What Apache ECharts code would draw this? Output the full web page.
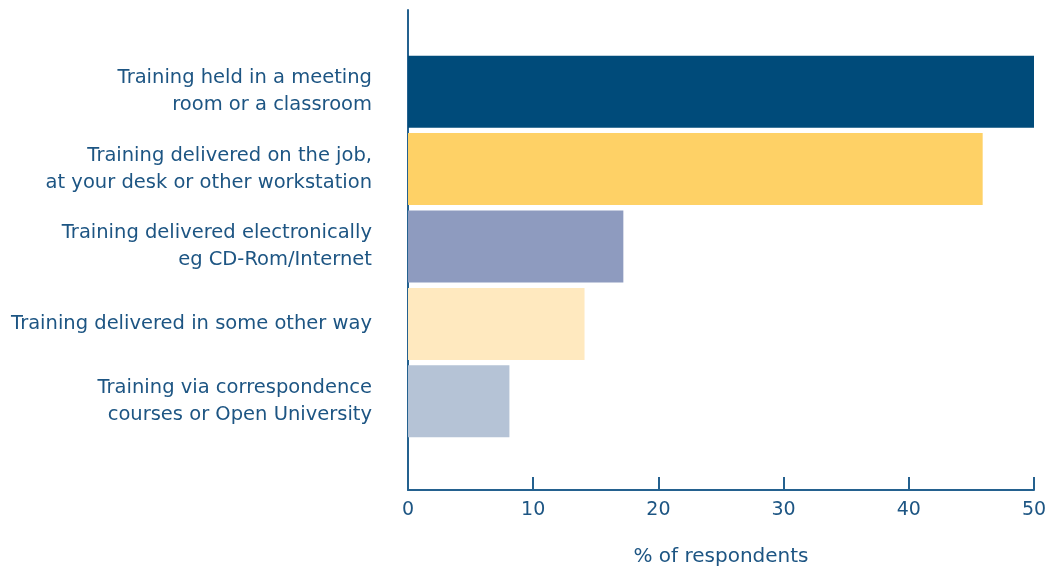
<!DOCTYPE html>
<html>
<head>
<meta charset="utf-8">
<script src="https://cdn.jsdelivr.net/npm/echarts@6/dist/echarts.min.js"></script>
<style>
  html, body { margin: 0; padding: 0; background: #fff; }
  #chart { width: 1055px; height: 574px; }
</style>
</head>
<body>
<div id="chart"></div>
<script>
const categories = [
  'Training held in a meeting\nroom or a classroom',
  'Training delivered on the job,\nat your desk or other workstation',
  'Training delivered electronically\neg CD-Rom/Internet',
  'Training delivered in some other way',
  'Training via correspondence\ncourses or Open University'
]
const values = [50, 45.9, 17.2, 14.1, 8.1]
const barColors = ['#004b7a', '#fed166', '#8e9bbf', '#ffe9bf', '#b5c3d6']
const xTicks = [0, 10, 20, 30, 40, 50]

const axisColor = '#24618f'
const textColor = '#1d5583'
const fontFamily = '"DejaVu Sans", sans-serif'

const chart = echarts.init(document.getElementById('chart'))

const option = {
  backgroundColor: '#fff',
  animation: false,
  grid: [
    // frame: axis lines and ticks
    { left: 408, right: 21, top: 10, bottom: 84 },
    // bars and category labels
    { left: 408, right: 21, top: 53, bottom: 134 }
  ],
  xAxis: [
    {
      gridIndex: 0,
      type: 'value',
      min: xTicks[0],
      max: xTicks[xTicks.length - 1],
      interval: 10,
      name: '% of respondents',
      nameLocation: 'middle',
      nameGap: 57,
      nameTextStyle: { color: textColor, fontSize: 20, fontFamily },
      axisLine: { show: true, lineStyle: { color: axisColor, width: 2 } },
      axisTick: { show: true, inside: true, length: 13, lineStyle: { color: axisColor, width: 2 } },
      axisLabel: { color: textColor, fontSize: 19, fontFamily, margin: 11 },
      splitLine: { show: false }
    },
    {
      gridIndex: 1,
      type: 'value',
      min: xTicks[0],
      max: xTicks[xTicks.length - 1],
      show: false
    }
  ],
  yAxis: [
    {
      gridIndex: 0,
      type: 'category',
      data: [''],
      axisLine: { show: true, lineStyle: { color: axisColor, width: 2 } },
      axisTick: { show: false },
      axisLabel: { show: false }
    },
    {
      gridIndex: 1,
      type: 'category',
      inverse: true,
      data: categories,
      axisLine: { show: false },
      axisTick: { show: false },
      axisLabel: {
        color: textColor,
        fontSize: 19.5,
        fontFamily,
        lineHeight: 27,
        align: 'right',
        margin: 36
      }
    }
  ],
  series: [
    {
      type: 'bar',
      xAxisIndex: 1,
      yAxisIndex: 1,
      barCategoryGap: '7%',
      data: values.map((v, i) => ({ value: v, itemStyle: { color: barColors[i] } }))
    }
  ]
}

chart.setOption(option)
</script>
</body>
</html>
